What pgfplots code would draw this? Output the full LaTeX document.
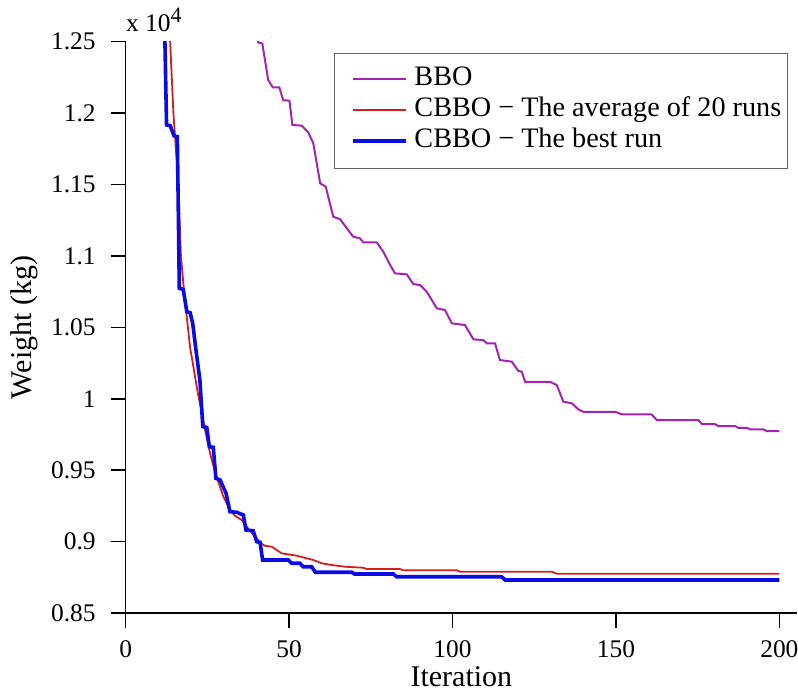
\documentclass[border=0pt]{standalone}
\usepackage{fontspec}
\setmainfont{Liberation Serif}
\usepackage{pgfplots}
\pgfplotsset{compat=1.18}
\definecolor{bbocol}{RGB}{165,35,180}
\definecolor{avgcol}{RGB}{210,30,30}
\definecolor{bestcol}{RGB}{10,10,230}
\definecolor{legframe}{RGB}{100,100,100}

\begin{document}
\begin{tikzpicture}[font=\fontsize{12.7}{15}\selectfont]
\path[use as bounding box] (-62.85pt,-41pt) rectangle (336.15pt,306.5pt);
\begin{axis}[
  name=ax, at={(0,0)}, anchor=south west,
  scale only axis, width=335.65pt, height=285.65pt,
  xmin=0, xmax=205.4, ymin=0.85, ymax=1.25,
  axis x line=bottom, axis y line=left,
  axis line style={-, line width=0.8pt},
  tick style={line width=0.8pt, black},
  tick align=outside, major tick length=7.5pt,
  xtick={0,50,100,150,200},
  xticklabels={0,50,100,150,200},
  ytick={0.85,0.9,0.95,1,1.05,1.1,1.15,1.2,1.25},
  yticklabels={0.85,0.9,0.95,1,1.05,1.1,1.15,1.2,1.25},
  xticklabel style={anchor=base, inner sep=0pt, yshift=-14.8pt},
  yticklabel style={anchor=east, inner sep=0pt, xshift=-7.35pt},
  xlabel={Iteration}, ylabel={Weight (kg)},
  every axis x label/.style={at={(axis description cs:0.5,0)}, anchor=base, yshift=-37pt, inner sep=0pt, font=\fontsize{15}{18}\selectfont},
  every axis y label/.style={at={(axis description cs:0,0.5)}, xshift=-46.85pt, rotate=90, anchor=base, font=\fontsize{15}{18}\selectfont},
  legend cell align=left,
  legend style={at={(0.9862,0.9802)}, anchor=north east, draw=legframe, line width=0.5pt,
    inner xsep=3pt, inner ysep=6.2pt, row sep=1.5pt, font=\fontsize{14.1}{17}\selectfont,
    nodes={inner sep=0pt, text height=10pt, text depth=4pt},
    /tikz/every odd column/.append style={column sep=3.5pt}},
  legend image code/.code={\path[draw=none] (-6pt,0pt) -- (26.5pt,0pt);\draw[#1] (0pt,0.5pt) -- (26.5pt,0.5pt);},
]
\addplot[color=bbocol, line width=1pt] coordinates {
(40,1.28) (40.5,1.2495) (41.8,1.2488) (43.6,1.2232) (45.0,1.218) (47.0,1.218) (48.2,1.209) (50.1,1.2087)
(51.0,1.1917) (53.9,1.1912) (55.9,1.1863) (57.4,1.1789) (59.5,1.1509) (61.2,1.1485) (63.5,1.1275) (65.6,1.1257)
(69.6,1.1135) (71.7,1.1123) (72.7,1.1095) (76.8,1.1095) (78.8,1.103) (80.9,1.0937) (82.4,1.0878) (86.0,1.0871)
(88.0,1.0803) (90.1,1.0796) (92.1,1.075) (95.2,1.0633) (97.7,1.0621) (99.8,1.0528) (103.8,1.0516) (106.4,1.0416)
(109.4,1.0411) (110.5,1.0388) (113.0,1.0388) (114.5,1.0271) (118.1,1.026) (120.1,1.0196) (121.2,1.0189) (122.2,1.0119)
(129.8,1.0119) (131.9,1.0096) (133.9,0.998) (136.5,0.9968) (138.5,0.9926) (140.0,0.9909) (149.7,0.9909) (151.8,0.9891)
(160.9,0.9891) (162.5,0.9851) (175.2,0.9851) (176.3,0.9823) (180.3,0.9823) (181.3,0.9809) (186.4,0.9809) (187.4,0.9797)
(190.0,0.9797) (191.0,0.9786) (195.1,0.9786) (196.1,0.9774) (200,0.9774)
};
\addlegendentry{BBO}
\addplot[color=avgcol, line width=0.9pt] coordinates {
(12.8,1.30) (13.6,1.25) (14.6,1.2) (16.1,1.15) (16.9,1.1) (17.9,1.074) (19.7,1.036) (22.0,1.005)
(24.3,0.978) (26,0.96) (27.8,0.9454) (29.8,0.932) (31.9,0.9221) (33.5,0.918) (35.5,0.9151) (37.5,0.909)
(39.6,0.9034) (41.2,0.899) (42.6,0.8971) (44.7,0.8964) (47.7,0.8918) (52.3,0.8901) (55,0.8885) (57.4,0.8871)
(60.0,0.8848) (63.0,0.8836) (67.1,0.8824) (72.7,0.8817) (73.7,0.8808) (83.9,0.8808) (84.9,0.8799) (101.3,0.8799)
(102.3,0.8789) (130.4,0.8789) (131.9,0.8775) (200,0.8775)
};
\addlegendentry{CBBO − The average of 20 runs}
\addplot[color=bestcol, line width=1.8pt] coordinates {
(12,1.32) (12.0,1.25) (12.5,1.1917) (13.6,1.1912) (14.8,1.184) (15.8,1.1835) (16.4,1.0773) (17.6,1.0766)
(18.7,1.0609) (19.7,1.0603) (20.5,1.0528) (21.5,1.0341) (22.7,1.0131) (23.6,0.9805) (24.8,0.98) (25.6,0.9664)
(26.8,0.966) (27.6,0.9443) (28.9,0.9431) (30.7,0.9338) (31.9,0.9209) (34.0,0.9205) (36.0,0.9186) (36.8,0.9081)
(39.0,0.9076) (40.1,0.8999) (41.1,0.8995) (41.9,0.8871) (49.8,0.8871) (50.8,0.8848) (53.3,0.8848) (54.3,0.8824)
(56.9,0.8824) (58.0,0.8785) (69.2,0.8785) (70.0,0.8773) (81.9,0.8773) (82.9,0.8754) (115.0,0.8754) (116.1,0.8731)
(200,0.8731)
};
\addlegendentry{CBBO − The best run}
\end{axis}
\node[anchor=base west, inner sep=0pt] at ([yshift=5pt]ax.north west) {x 10\raisebox{4.5pt}{\fontsize{11}{11}\selectfont 4}};
\end{tikzpicture}
\end{document}
